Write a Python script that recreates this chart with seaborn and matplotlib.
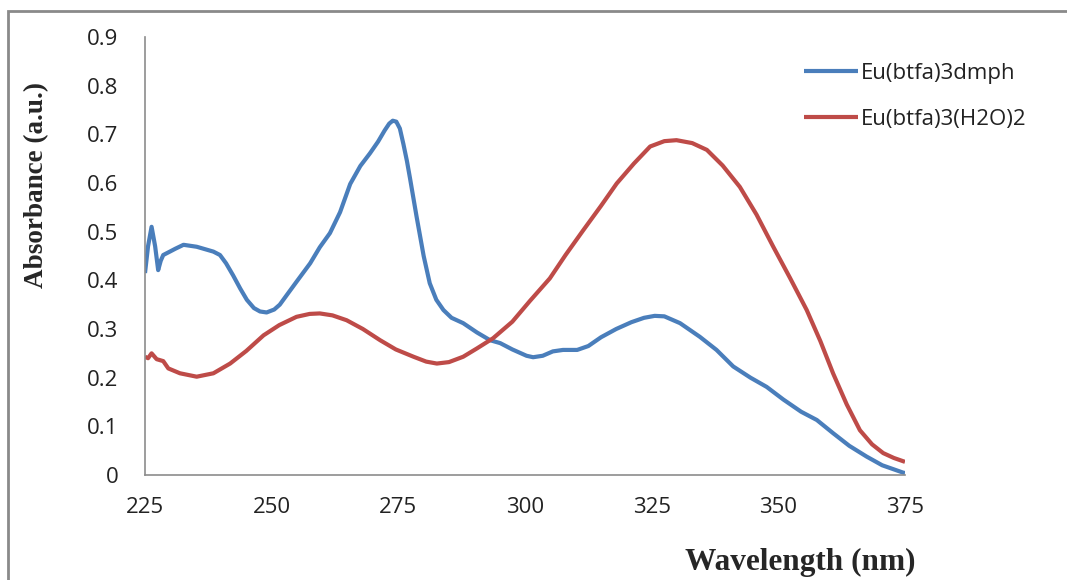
import numpy as np
import pandas as pd
import matplotlib
matplotlib.use("Agg")
import matplotlib.pyplot as plt
import seaborn as sns
from matplotlib.patches import Rectangle

# ---- data ----
blue_name = "Eu(btfa)3dmph"
red_name = "Eu(btfa)3(H2O)2"

blue_nm = [225, 225.6, 226.3, 227, 227.6, 228.1, 228.6, 229.9, 231, 232.6, 235.2, 238.5, 239.8,
           241, 242.4, 243.8, 245.1, 246.5, 247.7, 249, 250.5, 251.6, 253, 254.9, 257.6,
           259.5, 261.5, 263.5, 265.5, 267.5, 269.4, 271, 272.3, 273.2, 273.9, 274.6, 275.3,
           276.0, 276.7, 277.3, 278.6, 280, 281.2, 282.5, 283.9, 285.5, 287.8, 290.5, 293.1,
           295.1, 297.5, 300.3, 301.6, 303.5, 305.5, 307.5, 310.3, 312.5, 315, 318, 321,
           323.5, 325.6, 327.5, 330.6, 334.5, 337.8, 341.1, 344.5, 347.7, 351, 354.5, 357.6,
           360.8, 364, 367.4, 370.5, 374.6, 375]
blue_abs = [0.415, 0.47, 0.51, 0.47, 0.421, 0.44, 0.452, 0.459, 0.465, 0.473, 0.469, 0.459,
            0.452, 0.435, 0.41, 0.383, 0.36, 0.343, 0.336, 0.334, 0.34, 0.35, 0.37, 0.397,
            0.435, 0.468, 0.497, 0.54, 0.598, 0.635, 0.661, 0.685, 0.708, 0.722, 0.728, 0.726,
            0.712, 0.68, 0.645, 0.61, 0.531, 0.45, 0.394, 0.36, 0.339, 0.323, 0.312, 0.293,
            0.277, 0.271, 0.258, 0.245, 0.242, 0.245, 0.254, 0.257, 0.257, 0.265, 0.283, 0.3,
            0.314, 0.323, 0.327, 0.326, 0.312, 0.284, 0.257, 0.223, 0.2, 0.181, 0.155, 0.13,
            0.113, 0.086, 0.06, 0.038, 0.02, 0.005, 0.004]

red_nm = [225, 225.6, 226.3, 227.3, 228.6, 229.6, 231.9, 235.2, 238.5, 241.8, 245, 248.4,
          251.5, 254.9, 257.5, 259.5, 262, 264.8, 268, 271.4, 274.5, 278.0, 280.5, 282.6,
          285, 287.8, 290.5, 293.7, 297.5, 301, 304.9, 308, 311.5, 315, 318.1, 321.5,
          324.7, 327.5, 329.9, 333, 335.9, 339, 342.4, 345.7, 349.0, 352.3, 355.6, 358.3,
          360.8, 363.5, 366.1, 368.5, 370.7, 372.8, 375]
red_abs = [0.243, 0.24, 0.25, 0.238, 0.234, 0.219, 0.209, 0.202, 0.209, 0.229, 0.255, 0.287,
           0.308, 0.325, 0.331, 0.332, 0.328, 0.318, 0.3, 0.277, 0.258, 0.243, 0.233, 0.229,
           0.232, 0.243, 0.26, 0.281, 0.315, 0.358, 0.404, 0.452, 0.503, 0.553, 0.599, 0.64,
           0.675, 0.686, 0.688, 0.682, 0.668, 0.636, 0.592, 0.535, 0.469, 0.405, 0.339, 0.275,
           0.209, 0.145, 0.092, 0.063, 0.045, 0.035, 0.027]

x_ticks = [225, 250, 275, 300, 325, 350, 375]
y_ticks = [0, 0.1, 0.2, 0.3, 0.4, 0.5, 0.6, 0.7, 0.8, 0.9]
y_tick_labels = ["0", "0.1", "0.2", "0.3", "0.4", "0.5", "0.6", "0.7", "0.8", "0.9"]

df = pd.concat([
    pd.DataFrame({"nm": blue_nm, "A": blue_abs, "series": blue_name}),
    pd.DataFrame({"nm": red_nm, "A": red_abs, "series": red_name}),
], ignore_index=True)

sns.set_theme(style="white")
plt.rcParams['font.family'] = ['Open Sans', 'DejaVu Sans']

fig = plt.figure(figsize=(10.67, 5.8), dpi=100)
W, H = 1067, 580
ax = fig.add_axes([145 / W, 1 - 475 / H, (905 - 145) / W, (475 - 37) / H])

palette = {blue_name: "#4A7EBB", red_name: "#BE4B48"}
sns.lineplot(data=df, x="nm", y="A", hue="series", palette=palette, ax=ax,
             linewidth=3.0, sort=False, legend=True,
             solid_joinstyle="round", solid_capstyle="butt")

ax.set_xlim(225, 375)
ax.set_ylim(0, 0.9)
ax.set_xticks(x_ticks)
ax.set_xticklabels([str(v) for v in x_ticks])
ax.set_yticks(y_ticks)
ax.set_yticklabels(y_tick_labels)
ax.tick_params(axis="both", length=0, labelsize=16, colors="#222222")
ax.tick_params(axis="x", pad=16)
ax.tick_params(axis="y", pad=19)
for s in ["top", "right"]:
    ax.spines[s].set_visible(False)
for s in ["left", "bottom"]:
    ax.spines[s].set_color("#8c8c8c")
    ax.spines[s].set_linewidth(1.2)
ax.set_xlabel("")
ax.set_ylabel("")

leg = ax.legend(loc="upper left", bbox_to_anchor=(804 / W, 1 - 63 / H),
                bbox_transform=fig.transFigure, frameon=False, fontsize=16,
                handlelength=2.45, handletextpad=0.1, labelspacing=1.13,
                borderpad=0, borderaxespad=0)
for line in leg.get_lines():
    line.set_linewidth(3.0)
for t in leg.get_texts():
    t.set_color("#222222")

fig.text(800 / W, 1 - 562 / H, "Wavelength (nm)", ha="center", va="center",
         fontsize=22.5, fontweight="bold", family="Liberation Serif")
fig.text(37 / W, 1 - 185 / H, "Absorbance (a.u.)", ha="center", va="center",
         rotation=90, fontsize=19.5, fontweight="bold", family="Liberation Serif")

# outer chart-area border
fig.patches.append(Rectangle((8 / W, -0.05), 1.2, 1 - 11 / H + 0.05,
                             transform=fig.transFigure, fill=False,
                             edgecolor="#8a8a8a", linewidth=2))

fig.savefig("out.png", dpi=100)
